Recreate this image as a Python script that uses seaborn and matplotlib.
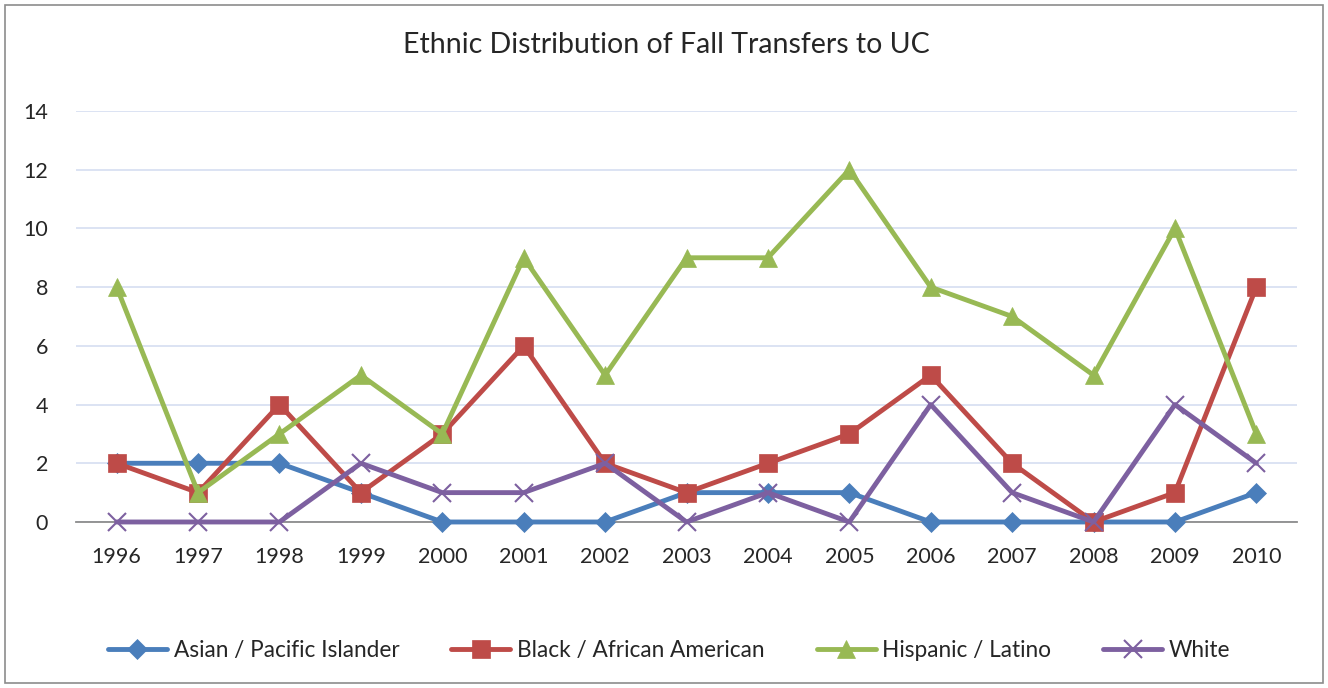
import pandas as pd
import numpy as np
import matplotlib
matplotlib.use("Agg")
import matplotlib.pyplot as plt
import seaborn as sns
from matplotlib.patches import Rectangle

# ======================================================
# Data
# ======================================================

years = [1996, 1997, 1998, 1999, 2000, 2001, 2002, 2003,
         2004, 2005, 2006, 2007, 2008, 2009, 2010]

asian = [2, 2, 2, 1, 0, 0, 0, 1, 1, 1, 0, 0, 0, 0, 1]
black = [2, 1, 4, 1, 3, 6, 2, 1, 2, 3, 5, 2, 0, 1, 8]
hispanic = [8, 1, 3, 5, 3, 9, 5, 9, 9, 12, 8, 7, 5, 10, 3]
white = [0, 0, 0, 2, 1, 1, 2, 0, 1, 0, 4, 1, 0, 4, 2]

series_names = ["Asian / Pacific Islander", "Black / African American",
                "Hispanic / Latino", "White"]

title = "Ethnic Distribution of Fall Transfers to UC"

# ======================================================
# Long-form table for seaborn
# ======================================================

wide = pd.DataFrame({
    "Year": years,
    series_names[0]: asian,
    series_names[1]: black,
    series_names[2]: hispanic,
    series_names[3]: white,
})
df = wide.melt(id_vars="Year", var_name="Group", value_name="Count")

palette = {
    series_names[0]: "#4A7EBB",
    series_names[1]: "#BE4B48",
    series_names[2]: "#98B954",
    series_names[3]: "#7D60A0",
}
markers = {
    series_names[0]: "D",
    series_names[1]: "s",
    series_names[2]: "^",
    series_names[3]: "x",
}
sizes = {
    series_names[0]: 10.5,
    series_names[1]: 12.5,
    series_names[2]: 13.5,
    series_names[3]: 12.5,
}

# ======================================================
# Plot
# ======================================================

sns.set_style("white")
plt.rcParams["font.family"] = ["Lato", "DejaVu Sans"]

fig = plt.figure(figsize=(13.28, 6.88), dpi=100)
ax = fig.add_axes([0.0572, 0.2413, 0.9195, 0.5974])

for name in series_names:
    sub = df[df["Group"] == name]
    sns.lineplot(
        data=sub, x="Year", y="Count",
        color=palette[name], marker=markers[name],
        markersize=sizes[name], linewidth=3.5,
        markeredgewidth=1.5 if name == "White" else 0.5,
        markeredgecolor=palette[name],
        label=name, ax=ax, clip_on=False, zorder=3,
    )

ax.set_xlim(1995.5, 2010.5)
ax.set_ylim(0, 14)
ax.set_yticks(range(0, 15, 2))
ax.set_xticks(years)
ax.set_xticklabels([str(y) for y in years])

ax.grid(axis="y", color="#D9E1F2", linewidth=1.3)
ax.grid(axis="x", visible=False)
for side in ["top", "right", "left"]:
    ax.spines[side].set_visible(False)
ax.spines["bottom"].set_color("#8C8C8C")
ax.spines["bottom"].set_linewidth(1.3)

ax.tick_params(axis="y", length=0, pad=20, labelsize=15.5)
ax.tick_params(axis="x", length=0, pad=18, labelsize=15.5)
ax.set_xlabel("")
ax.set_ylabel("")

fig.text(0.502, 0.934, title, ha="center", va="center", fontsize=20.5)

handles, labels = ax.get_legend_handles_labels()
ax.get_legend().remove()
fig.legend(handles, labels, loc="center", bbox_to_anchor=(0.504, 0.054), ncol=4,
           frameon=False, fontsize=16.3, handlelength=2.6, columnspacing=2.3,
           handletextpad=0.3)

fig.patches.append(Rectangle((0.004, 0.007), 0.992, 0.986, transform=fig.transFigure,
                             fill=False, edgecolor="#8C8C8C", linewidth=1.2))

fig.savefig("out.png", dpi=100)
